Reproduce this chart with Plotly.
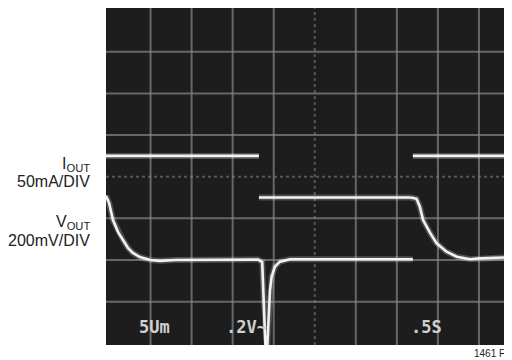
import plotly.graph_objects as go

# ---- data (in scope divisions) ----
iout_x = [-0.2, 3.64, None, 3.64, 7.34, None, 7.39, 10.0]
iout_y = [4.5, 4.5, None, 3.5, 3.5, None, 4.5, 4.5]

vout_x = [-0.085, -0.01, 0.085, 0.21, 0.33, 0.45, 0.57, 0.74, 0.99, 1.23, 1.60,
          3.62, 3.72, 3.76, 3.80, 3.84, 3.87, 3.91, 3.95, 4.03, 4.15, 4.40, 7.39,
          None,
          7.34, 7.48, 7.56, 7.64, 7.81, 7.97, 8.21, 8.46, 8.78, 9.03, 9.81]
vout_y = [3.54, 3.37, 2.96, 2.67, 2.48, 2.29, 2.17, 2.07, 2.00, 1.98, 2.00,
          2.01, 1.95, 1.04, -0.10, -0.16, 0.40, 1.28, 1.60, 1.84, 1.96, 2.02, 2.02,
          None,
          3.50, 3.47, 3.28, 2.96, 2.65, 2.40, 2.20, 2.08, 2.02, 2.04, 2.07]

grid_x = [1, 2, 3, 4, 6, 7, 8, 9]
grid_y = [1, 2, 3, 5, 6, 7]
center_x = 5
center_y = 4

readouts = ["5Um", ".2V~", ".5S"]
readout_x = [0.68, 2.8, 7.3]

# page has an 8px body margin; compensate so the figure fills the 512x360 window
OFF = 8
W, H = 512 - OFF, 360 - OFF
L, R, T, B = 106 - OFF, 0, 0, 15
pw, ph = W - L - R, H - T - B

def px(xp):
    return (xp - OFF - L) / pw

def py(yp):
    return (H - (yp - OFF) - B) / ph

fig = go.Figure()

glow = "rgba(255,255,255,0.22)"
core = "#f2f2f2"
for xs, ys in [(iout_x, iout_y), (vout_x, vout_y)]:
    fig.add_trace(go.Scatter(x=xs, y=ys, mode="lines", line=dict(color=glow, width=6),
                             hoverinfo="skip", showlegend=False))
    fig.add_trace(go.Scatter(x=xs, y=ys, mode="lines", line=dict(color=core, width=2.6),
                             hoverinfo="skip", showlegend=False))

shapes = []
gc = "rgba(135,135,135,0.7)"
for gx in grid_x:
    shapes.append(dict(type="line", xref="x", yref="paper", x0=gx, x1=gx, y0=0, y1=1,
                       line=dict(color=gc, width=2), layer="below"))
for gy in grid_y:
    shapes.append(dict(type="line", xref="paper", yref="y", x0=0, x1=1, y0=gy, y1=gy,
                       line=dict(color=gc, width=2), layer="below"))
shapes.append(dict(type="line", xref="x", yref="paper", x0=center_x, x1=center_x, y0=0, y1=1,
                   line=dict(color="rgba(135,135,135,0.55)", width=2, dash="dot"), layer="below"))
shapes.append(dict(type="line", xref="paper", yref="y", x0=0, x1=1, y0=center_y, y1=center_y,
                   line=dict(color="rgba(135,135,135,0.55)", width=2, dash="dot"), layer="below"))

lab_font = dict(family="Liberation Sans Narrow, Liberation Sans, Arial", size=16, color="#222")
annotations = []
for text, yp in [("I<sub>OUT</sub>", 164), ("50mA/DIV", 181),
                 ("V<sub>OUT</sub>", 223), ("200mV/DIV", 240)]:
    annotations.append(dict(text=text, x=px(92), y=py(yp), xref="paper", yref="paper",
                            showarrow=False, xanchor="right", yanchor="middle", font=lab_font))
annotations.append(dict(text="1461 F", x=px(507), y=py(353), xref="paper", yref="paper",
                        showarrow=False, xanchor="right", yanchor="middle",
                        font=dict(family="Liberation Sans Narrow, Liberation Sans, Arial",
                                  size=10, color="#222")))
for t, rx in zip(readouts, readout_x):
    annotations.append(dict(text="<b>" + t + "</b>", x=rx, y=0.4, xref="x", yref="y",
                            showarrow=False, xanchor="left", yanchor="middle",
                            font=dict(family="DejaVu Sans Mono", size=17, color="#d0d0d0")))

fig.update_layout(
    width=W, height=H,
    margin=dict(l=L, r=R, t=T, b=B),
    paper_bgcolor="white",
    plot_bgcolor="#1d1d1d",
    xaxis=dict(range=[-0.085, 9.805], showgrid=False, zeroline=False, showticklabels=False,
               ticks="", fixedrange=True),
    yaxis=dict(range=[-0.04, 8.05], showgrid=False, zeroline=False, showticklabels=False,
               ticks="", fixedrange=True),
    shapes=shapes,
    annotations=annotations,
    showlegend=False,
)

fig.write_html("out.html")
